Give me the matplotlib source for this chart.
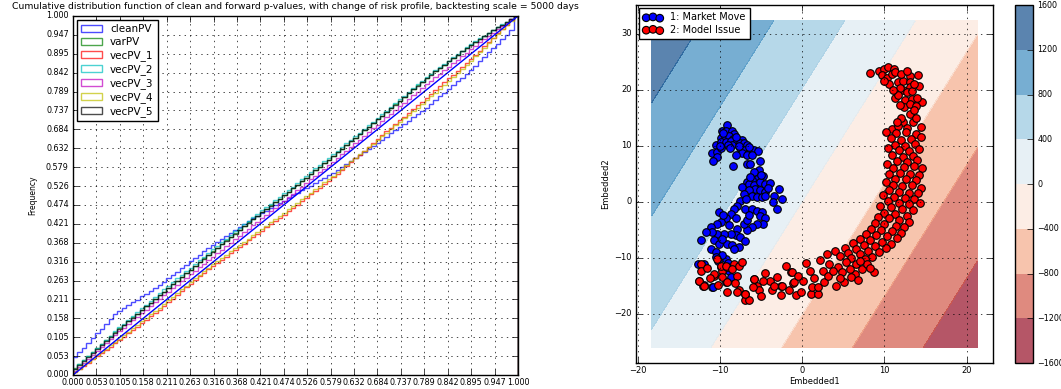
import numpy as np
import matplotlib
matplotlib.use("Agg")
import matplotlib.pyplot as plt

# ---------------- left panel: counts per bin (100 bins on [0, 1]) ----------------
pv_names = ["cleanPV", "varPV", "vecPV_1", "vecPV_2", "vecPV_3", "vecPV_4", "vecPV_5"]
pv_colors = ["b", "g", "r", "c", "m", "y", "k"]

cleanPV = [250, 72, 60, 70, 64, 68, 62, 70, 66, 68,
           44, 38, 42, 36, 40, 44, 38, 40, 36, 42,
           50, 44, 48, 46, 50, 48, 46, 50, 44, 49,
           42, 45, 40, 44, 41, 43, 42, 45, 40, 43,
           36, 33, 37, 34, 35, 36, 33, 35, 36, 35,
           34, 36, 35, 33, 37, 34, 36, 35, 34, 36,
           40, 44, 42, 43, 41, 44, 42, 43, 41, 45,
           44, 46, 43, 47, 45, 44, 46, 45, 44, 46,
           50, 54, 51, 53, 52, 54, 51, 53, 52, 55,
           60, 62, 58, 64, 60, 62, 58, 66, 60, 200]
varPV = [100, 56, 54, 58, 55, 57, 53, 56, 55, 56,
         52, 50, 53, 49, 51, 52, 50, 51, 50, 52,
         51, 53, 50, 52, 51, 52, 50, 53, 51, 52,
         50, 49, 51, 50, 52, 48, 50, 51, 49, 50,
         47, 48, 46, 49, 47, 48, 47, 48, 47, 48,
         49, 51, 50, 50, 52, 48, 50, 51, 49, 50,
         50, 52, 51, 50, 52, 51, 50, 52, 51, 51,
         53, 52, 54, 53, 52, 54, 53, 52, 54, 53,
         46, 45, 47, 46, 45, 47, 46, 46, 45, 47,
         40, 41, 39, 40, 41, 39, 40, 41, 39, 40]
vecPV_1 = [40, 45, 43, 44, 46, 43, 45, 44, 46, 44,
           47, 46, 48, 47, 46, 48, 47, 46, 48, 47,
           51, 52, 51, 52, 51, 52, 51, 52, 51, 52,
           45, 44, 46, 45, 44, 46, 45, 44, 46, 45,
           44, 46, 45, 45, 44, 46, 45, 44, 46, 45,
           47, 48, 47, 48, 47, 48, 47, 48, 47, 48,
           54, 53, 55, 54, 53, 55, 54, 53, 55, 54,
           52, 51, 53, 52, 51, 53, 52, 51, 53, 52,
           54, 55, 53, 54, 55, 53, 54, 55, 53, 54,
           58, 60, 59, 61, 60, 59, 61, 60, 60, 62]
vecPV_2 = [90, 58, 56, 59, 57, 58, 56, 59, 57, 60,
           53, 52, 54, 53, 52, 54, 53, 52, 54, 53,
           51, 50, 52, 51, 50, 52, 51, 50, 52, 51,
           50, 49, 51, 50, 49, 51, 50, 49, 51, 50,
           48, 47, 47, 48, 47, 48, 47, 48, 47, 48,
           50, 51, 49, 50, 51, 49, 50, 51, 49, 50,
           50, 51, 50, 51, 50, 51, 50, 51, 50, 51,
           52, 53, 51, 52, 53, 51, 52, 53, 51, 52,
           46, 45, 47, 46, 45, 47, 46, 45, 47, 46,
           39, 40, 38, 39, 40, 38, 39, 40, 38, 39]
vecPV_3 = [60, 56, 55, 56, 54, 57, 55, 56, 55, 56,
           50, 49, 51, 50, 49, 51, 50, 49, 51, 50,
           49, 48, 50, 49, 48, 50, 49, 48, 50, 49,
           48, 50, 49, 49, 48, 50, 49, 48, 50, 49,
           49, 48, 49, 48, 49, 48, 49, 48, 49, 48,
           50, 49, 50, 49, 50, 49, 50, 49, 50, 49,
           52, 51, 53, 52, 51, 53, 52, 51, 53, 52,
           51, 50, 52, 51, 50, 52, 51, 50, 52, 51,
           49, 48, 50, 49, 48, 50, 49, 48, 50, 49,
           46, 45, 47, 46, 45, 47, 46, 45, 47, 46]
vecPV_4 = [42, 47, 46, 47, 45, 47, 46, 47, 45, 48,
           48, 47, 49, 48, 47, 49, 48, 47, 49, 48,
           51, 50, 52, 51, 50, 52, 51, 50, 52, 51,
           45, 46, 44, 45, 46, 44, 45, 46, 44, 45,
           45, 44, 46, 45, 44, 46, 45, 44, 46, 45,
           48, 47, 48, 47, 48, 47, 48, 47, 48, 47,
           50, 49, 51, 50, 49, 51, 50, 49, 51, 50,
           49, 51, 50, 50, 49, 51, 50, 49, 51, 50,
           55, 54, 56, 55, 54, 56, 55, 54, 56, 55,
           62, 63, 61, 62, 64, 62, 63, 61, 62, 65]
vecPV_5 = [90, 56, 55, 56, 54, 57, 55, 56, 55, 56,
           52, 51, 53, 52, 51, 53, 52, 51, 53, 52,
           51, 50, 52, 51, 50, 52, 51, 50, 52, 51,
           50, 49, 51, 50, 49, 51, 50, 49, 51, 50,
           48, 47, 49, 48, 47, 49, 48, 47, 49, 48,
           50, 51, 49, 50, 51, 49, 50, 51, 49, 50,
           51, 50, 52, 51, 50, 52, 51, 50, 52, 51,
           52, 53, 52, 53, 52, 53, 52, 53, 52, 53,
           46, 47, 46, 47, 46, 47, 46, 47, 46, 47,
           40, 41, 39, 40, 41, 39, 40, 41, 39, 40]
pv_counts = [cleanPV, varPV, vecPV_1, vecPV_2, vecPV_3, vecPV_4, vecPV_5]

# ---------------- right panel: embedded points ----------------
market_move = [
    (-9.1, 13.6), (-9.7, 12.7), (-9.2, 12.6), (-8.5, 12.6), (-8.3, 12.1), (-9.9, 11.4),
    (-9.4, 11.8), (-8.9, 11.7), (-8.4, 11.2), (-7.9, 11.1), (-7.3, 11.0), (-10.5, 10.2),
    (-9.9, 10.7), (-9.3, 10.7), (-8.7, 10.8), (-8.1, 10.4), (-7.6, 10.5), (-7.1, 10.5),
    (-6.7, 10.2), (-10.9, 8.6), (-10.3, 8.9), (-9.9, 9.5), (-10.4, 8.0), (-10.8, 7.3),
    (-8.5, 10.1), (-7.5, 9.5), (-6.9, 9.2), (-6.3, 9.2), (-5.9, 9.2), (-5.4, 9.0),
    (-7.3, 8.6), (-6.7, 8.4), (-6.1, 8.3), (-8.1, 8.3), (-8.4, 6.3), (-6.7, 6.8),
    (-6.3, 6.8), (-5.1, 7.2), (-9.6, 12.2), (-8.0, 11.6), (-7.7, 9.9), (-6.4, 9.7),
    (-9.0, 10.2), (-10.0, 9.9), (-8.8, 9.6),
    (-5.3, 5.6), (-5.9, 5.3), (-4.7, 4.5), (-5.5, 4.1), (-6.1, 3.8), (-6.7, 3.5),
    (-7.3, 2.7), (-6.5, 3.2), (-5.8, 2.9), (-5.1, 3.5), (-4.5, 3.2), (-3.9, 3.3),
    (-5.7, 2.3), (-5.1, 2.1), (-4.5, 1.7), (-6.5, 2.0), (-7.1, 1.4), (-6.1, 1.1),
    (-5.5, 0.8), (-4.9, 0.8), (-4.5, 1.1), (-2.8, 2.3), (-2.4, 0.4), (-3.4, 1.0),
    (-3.0, -1.3), (-7.5, 0.2), (-7.9, -0.7), (-6.9, -1.3), (-6.1, -1.3), (-5.5, -1.6),
    (-4.9, -1.9), (-5.1, -2.6), (-4.5, -3.0), (-4.7, -3.9), (-5.5, -3.9), (-6.1, -4.5),
    (-6.7, -5.1), (-8.3, -1.3), (-8.7, -2.2), (-9.3, -3.0), (-9.9, -3.6), (-10.3, -3.9),
    (-11.1, -4.5), (-10.1, -1.9), (-8.9, -4.2), (-7.9, -4.8), (-7.1, -3.9), (-6.7, -3.3),
    (-8.1, -6.0), (-7.5, -6.3), (-8.7, -5.7), (-9.5, -5.7), (-10.3, -5.7), (-10.9, -5.4),
    (-11.7, -5.4), (-10.7, -6.9), (-10.1, -7.5), (-9.1, -7.5), (-8.5, -7.8), (-7.7, -8.1),
    (-8.3, -8.4), (-12.3, -6.9), (-11.1, -8.4), (-10.5, -9.0), (-6.3, 4.4), (-5.0, 4.8),
    (-4.2, 2.4), (-6.8, 0.5), (-3.6, 0.0), (-8.0, -3.0), (-9.6, -2.4), (-6.4, -2.4),
    (-7.0, -7.0), (-9.8, -6.6),
    (-12.6, -11.1), (-11.9, -11.1), (-12.1, -15.0), (-11.0, -15.2), (-9.3, -10.2),
    (-9.9, -11.7), (-8.9, -12.3), (-8.7, -13.8), (-9.3, -14.4), (-9.7, -9.6),
    (-10.5, -9.9), (-11.9, -14.9), (-10.8, -15.3), (-8.6, -13.5), (-10.2, -10.6),
    (-9.0, -11.0),
]
model_issue = [
    # upper part of the arc
    (8.3, 23.0), (9.4, 23.3), (9.9, 23.7), (10.4, 24.0), (11.2, 23.6), (9.7, 22.6),
    (10.3, 22.1), (10.9, 22.7), (11.3, 23.2), (13.1, 22.4), (14.1, 22.6), (11.7, 21.4),
    (12.3, 21.5), (13.1, 21.4), (12.3, 19.9), (13.1, 20.5), (14.2, 20.6), (11.9, 20.2),
    (12.7, 19.6), (13.3, 19.8), (11.3, 18.5), (11.7, 19.0), (12.5, 18.1), (13.3, 18.4),
    (14.6, 17.8), (12.4, 16.9), (13.1, 17.5), (13.9, 17.0), (13.1, 15.7), (12.3, 14.2),
    (12.7, 13.2), (13.5, 14.2), (14.4, 13.3), (10.9, 13.0), (11.7, 13.5), (10.6, 21.0),
    (11.0, 20.0), (12.0, 22.8), (13.6, 21.0), (11.9, 17.2), (13.6, 16.3), (12.0, 15.0),
    (13.8, 15.0), (11.5, 14.3), (14.0, 18.5), (12.8, 23.4), (10.0, 21.5),
    # right vertical strip
    (10.2, 12.4), (11.4, 12.2), (12.6, 12.5), (13.8, 12.0), (14.5, 11.5), (10.8, 11.3),
    (12.0, 11.0), (13.2, 11.2), (11.3, 10.2), (12.5, 10.0), (13.7, 10.3), (10.4, 9.6),
    (11.8, 9.2), (13.0, 9.0), (14.2, 9.4), (10.9, 8.3), (12.3, 8.0), (13.5, 8.2),
    (11.5, 7.2), (12.8, 7.0), (14.0, 7.4), (10.3, 6.8), (11.1, 6.0), (12.4, 6.1),
    (13.6, 6.3), (14.6, 6.0), (10.6, 5.0), (11.9, 5.2), (13.1, 5.0), (14.2, 4.8),
    (11.3, 4.1), (12.6, 4.0), (13.8, 3.8), (10.2, 3.5), (11.0, 3.0), (12.2, 2.8),
    (13.4, 2.9), (14.5, 2.5), (10.6, 2.0), (11.8, 1.8), (13.0, 1.6), (14.1, 1.5),
    (9.8, 1.2), (11.2, 0.9), (12.5, 0.6), (13.6, 0.4), (10.4, 0.2), (11.8, -0.2),
    (13.0, -0.5), (14.3, -0.3),
    (9.5, -0.8), (10.8, -1.0), (12.2, -1.3), (13.5, -1.5), (9.9, -2.0), (11.3, -2.2),
    (12.7, -2.5), (9.2, -2.8), (10.5, -3.0), (11.8, -3.3), (13.0, -3.6), (8.8, -3.8),
    (10.0, -4.0), (11.4, -4.3), (12.4, -4.6), (8.4, -4.9), (9.6, -5.0), (10.9, -5.3),
    (12.0, -5.6), (7.8, -5.8), (9.0, -6.0), (10.3, -6.2), (11.5, -6.5),
    # bend
    (7.0, -6.7), (8.3, -6.9), (9.7, -7.2), (10.8, -7.5), (6.2, -7.4), (7.5, -7.7),
    (8.9, -8.0), (10.2, -8.3), (5.2, -8.2), (6.6, -8.5), (8.0, -8.8), (9.4, -9.0),
    (4.0, -8.8), (5.6, -9.1), (7.0, -9.4), (8.5, -9.8), (3.0, -9.3), (4.6, -9.7),
    (6.0, -10.0), (7.6, -10.3),
    # bottom strip
    (-12.3, -11.1), (-12.5, -14.1), (-10.7, -13.2), (-9.7, -12.3), (-9.1, -11.7),
    (-8.3, -11.1), (-7.9, -13.2), (-7.7, -15.8), (-9.1, -16.1), (-6.9, -16.4),
    (-7.0, -17.6), (-6.4, -17.6), (-5.9, -13.8), (-5.5, -15.0), (-5.3, -15.8),
    (-3.9, -14.1), (-3.7, -15.8), (-2.6, -16.7), (-2.6, -15.0), (-1.6, -15.8),
    (-1.3, -12.6), (-1.1, -14.6), (-0.7, -16.7), (-0.1, -16.1), (0.1, -14.1),
    (1.0, -12.3), (1.1, -16.4), (1.2, -15.2), (1.9, -16.4), (1.9, -15.2),
    (2.5, -12.3), (2.7, -14.4), (3.1, -13.2), (3.3, -11.1), (4.1, -15.0),
    (4.3, -11.7), (4.9, -12.6), (5.1, -14.4), (5.3, -10.8), (6.4, -12.9),
    (6.5, -11.2), (7.3, -12.0), (7.9, -11.1), (8.7, -12.6),
    (-10.3, -10.2), (-9.9, -11.4), (-9.2, -11.4), (-8.5, -12.0), (-7.7, -11.4),
    (-7.3, -10.8), (-12.3, -12.3), (-10.7, -12.9), (-9.7, -13.5), (-9.1, -14.4),
    (-12.5, -14.1), (-11.9, -15.0), (-7.9, -16.1), (-6.9, -16.4), (-5.9, -13.8),
    (-4.7, -14.1), (-3.4, -15.0), (-2.4, -15.0), (-1.2, -12.6), (-1.0, -14.4),
    (-4.5, -12.8), (-3.0, -13.5), (-2.0, -11.5), (0.5, -11.0), (1.5, -13.6),
    (2.2, -10.5), (3.8, -12.4), (4.6, -13.6), (5.8, -12.0), (6.0, -13.4),
    (7.0, -10.6), (8.2, -11.8), (6.8, -14.0), (-0.5, -13.2), (-5.0, -16.8),
    (-6.0, -15.2), (-8.2, -14.6), (-10.2, -14.8), (-11.2, -13.6), (-11.6, -11.8),
]
class_labels = ["1: Market Move", "2: Model Issue"]
class_colors = ["b", "r"]

surface_coef = (-46.5, 19.8)
surface_x = (-18.3, 21.3)
surface_y = (-26.0, 32.25)
surface_levels = [-1600, -1200, -800, -400, 0, 400, 800, 1200, 1600]

plt.style.use("classic")
plt.rcParams["figure.facecolor"] = "white"
plt.rcParams["savefig.facecolor"] = "white"
plt.rcParams["font.family"] = ["DejaVu Sans"]
plt.rcParams["xtick.labelsize"] = 6
plt.rcParams["ytick.labelsize"] = 6
plt.rcParams["xtick.major.pad"] = 2.5
plt.rcParams["ytick.major.pad"] = 3

fig = plt.figure(figsize=(10.61, 3.89), dpi=100)

# ---------------- left: cumulative distributions ----------------
ax1 = fig.add_axes([0.0688, 0.036, 0.4194, 0.9229])
edges = np.linspace(0, 1, len(cleanPV) + 1)
for name, color, counts in zip(pv_names, pv_colors, pv_counts):
    ax1.hist(edges[:-1], bins=edges, weights=counts, cumulative=True, density=True,
             histtype="step", color=color, alpha=0.7, lw=1, label=name)
ax1.plot([0, 1], [0, 1], color="b", lw=1)
ticks = np.linspace(0, 1, 20)
ax1.set_xticks(ticks)
ax1.set_yticks(ticks)
ax1.set_xticklabels(["%.3f" % t for t in ticks], fontsize=5.8)
ax1.set_yticklabels(["%.3f" % t for t in ticks], fontsize=5.8)
ax1.set_xlim(0, 1)
ax1.set_ylim(0, 1)
ax1.grid(True)
ax1.set_ylabel("Frequency", fontsize=5.5, labelpad=6)
ax1.set_title("Cumulative distribution function of clean and forward p-values, "
              "with change of risk profile, backtesting scale = 5000 days",
              fontsize=6.7)
ax1.legend(loc="upper left", fontsize=7.5, labelspacing=0.3, borderaxespad=0.35)

# ---------------- right: embedding scatter ----------------
ax2 = fig.add_axes([0.5994, 0.0668, 0.3365, 0.9203])
gx, gy = np.meshgrid(np.linspace(surface_x[0], surface_x[1], 200),
                     np.linspace(surface_y[0], surface_y[1], 200))
gz = surface_coef[0] * gx + surface_coef[1] * gy
cs = ax2.contourf(gx, gy, gz, levels=surface_levels, cmap="RdBu", alpha=0.7)
for pts, color, label in zip([market_move, model_issue], class_colors, class_labels):
    arr = np.array(pts)
    ax2.scatter(arr[:, 0], arr[:, 1], s=30, c=color, edgecolors="k", lw=0.8, label=label)
ax2.set_xlim(-20.2, 23.2)
ax2.set_ylim(-28.8, 35.1)
ax2.set_xticks([-20, -10, 0, 10, 20])
ax2.set_yticks([-20, -10, 0, 10, 20, 30])
ax2.grid(True)
ax2.set_xlabel("Embedded1", fontsize=6, labelpad=1)
ax2.set_ylabel("Embedded2", fontsize=6, labelpad=3)
ax2.legend(loc="upper left", fontsize=7, scatterpoints=3, labelspacing=0.25,
           borderaxespad=0.35)

cax = fig.add_axes([0.9566, 0.0668, 0.017, 0.9203])
cb = fig.colorbar(cs, cax=cax)
cb.ax.tick_params(labelsize=5.8, pad=3)

fig.savefig("out.png", dpi=100)
